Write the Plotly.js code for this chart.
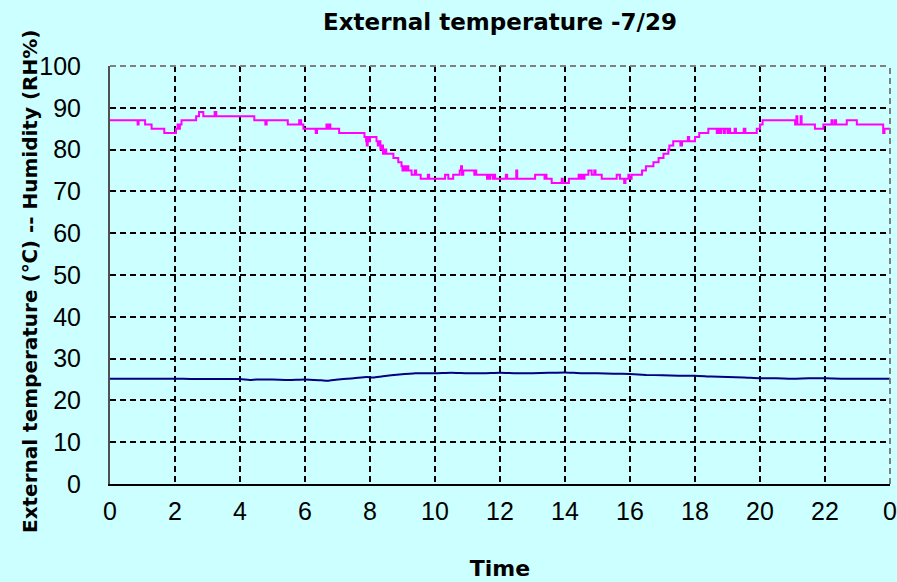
<!DOCTYPE html>
<html>
<head>
<meta charset="utf-8">
<script src="https://cdn.plot.ly/plotly-3.0.1.min.js"></script>
<style>
html,body{margin:0;padding:0;background:#CCFFFF;}
#chart{width:897px;height:582px;}
</style>
</head>
<body>
<div id="chart"></div>
<script>
// Humidity (RH%) step data: time (h) and value
const humTime = [0,0.85,0.88,1.08,1.28,1.67,2.03,2.08,2.1,2.15,2.2,2.65,2.74,2.87,3.22,3.27,4.44,4.78,4.82,5.47,5.82,5.88,5.95,6.33,6.37,6.66,6.7,6.74,6.78,7.05,7.83,7.88,7.9,7.93,7.97,8.0,8.2,8.24,8.27,8.32,8.36,8.4,8.45,8.5,8.72,8.87,8.97,9.0,9.03,9.08,9.12,9.18,9.28,9.38,9.42,9.56,9.78,9.82,10.31,10.41,10.56,10.76,10.8,10.83,10.87,11.21,11.24,11.27,11.6,11.63,11.67,11.7,11.78,11.82,11.85,12.18,12.22,12.5,12.53,13.08,13.37,13.4,13.43,13.59,13.9,13.93,14.12,14.42,14.45,14.5,14.55,14.6,14.72,14.82,14.9,14.94,15.0,15.13,15.59,15.69,15.82,15.86,15.95,15.98,16.05,16.37,16.49,16.72,16.88,17.03,17.18,17.21,17.33,17.55,17.6,17.78,17.82,18.0,18.13,18.41,18.67,18.7,18.75,18.8,18.88,18.92,19.0,19.05,19.08,19.22,19.26,19.5,19.55,19.9,20.0,20.08,21.08,21.12,21.15,21.25,21.28,21.69,21.95,22.2,22.23,22.3,22.34,22.67,22.98,23.79,23.83,24];
const humValue = [87,86,87,86,85,84,85,86,85,86,87,88,89,88,89,88,87,86,87,86,87,86,85,84,85,86,85,86,85,84,83,82,81,83,82,83,82,81,82,80,81,79,80,79,78,77,76,75,76,75,76,75,74,75,74,73,74,73,74,73,74,75,76,74,75,74,75,74,73,74,73,74,73,74,73,74,73,75,73,74,73,74,73,72,73,72,73,74,73,74,73,74,75,74,75,74,74,73,74,73,72,73,74,73,74,75,76,77,78,79,80,81,82,81,82,83,82,83,84,85,84,85,84,85,84,85,84,85,84,85,84,85,84,85,86,87,86,88,86,88,86,85,86,87,86,87,86,87,86,84,85,85];

// External temperature (℃)
const tempTime = [0,0.5,1,1.5,2,2.5,3,3.5,4,4.3,4.5,5,5.5,6,6.5,6.7,7,7.5,7.9,8.1,8.4,8.9,9.4,10,10.5,11,11.5,12,12.5,13,13.5,14,14.5,15,15.5,16,16.5,17,17.5,18,18.5,19,19.5,20,20.5,21,21.5,22,22.5,23,23.5,24];
const tempValue = [25.2,25.2,25.2,25.2,25.2,25.1,25.1,25.1,25.1,24.9,25.0,25.0,24.9,25.0,24.8,24.7,25.0,25.3,25.6,25.5,25.8,26.2,26.5,26.5,26.6,26.5,26.5,26.6,26.5,26.5,26.6,26.7,26.5,26.5,26.4,26.3,26.1,26.0,25.9,25.9,25.7,25.6,25.5,25.3,25.3,25.2,25.3,25.3,25.2,25.2,25.2,25.2];

const xTickVals = [0,2,4,6,8,10,12,14,16,18,20,22,24];
const xTickText = ['0','2','4','6','8','10','12','14','16','18','20','22','0'];
const yTickVals = [0,10,20,30,40,50,60,70,80,90,100];

const traces = [
  {x: humTime, y: humValue, type:'scatter', mode:'lines', line:{color:'#FF00FF', width:2, shape:'hv'}, name:'Humidity'},
  {x: tempTime, y: tempValue, type:'scatter', mode:'lines', line:{color:'#000080', width:2, shape:'spline', smoothing:0.6}, name:'Temperature'}
];

const layout = {
  width: 897, height: 582,
  paper_bgcolor:'#CCFFFF', plot_bgcolor:'#CCFFFF',
  margin:{l:110, r:7, t:66, b:98},
  showlegend:false,
  font:{family:'Liberation Sans, Arial, sans-serif', color:'#000'},
  title:{text:'External temperature -7/29', font:{family:'DejaVu Sans', size:23, weight:'bold', color:'#000'}, x:0.5, xref:'paper', xanchor:'center', y:0.962, yanchor:'middle'},
  xaxis:{
    range:[0,24], tickvals:xTickVals, ticktext:xTickText,
    tickfont:{size:25}, showgrid:true, gridcolor:'#000', gridwidth:2, griddash:'6px,4px',
    showline:true, linecolor:'#000', linewidth:2, zeroline:false,
    ticks:'', ticklabelstandoff:4,
    title:{text:'Time', font:{family:'DejaVu Sans', size:22, weight:'bold'}, standoff:37}
  },
  yaxis:{
    range:[0,100], tickvals:yTickVals,
    tickfont:{size:25}, showgrid:true, gridcolor:'#000', gridwidth:2, griddash:'6px,4px',
    showline:true, linecolor:'#505050', linewidth:2, zeroline:false,
    ticks:'', ticklabelstandoff:22
  },
  annotations:[
    {text:'External temperature (℃) -- Humidity (RH%)', xref:'paper', yref:'paper', x:0, y:0.5,
     xanchor:'center', yanchor:'middle', xshift:-80, yshift:-7, textangle:-90, showarrow:false,
     font:{family:'DejaVu Sans', size:20, weight:'bold', color:'#000'}}
  ],
  shapes:[
    {type:'line', xref:'paper', yref:'paper', x0:0, x1:1, y0:1, y1:1, line:{color:'#808080', width:2, dash:'6px,4px'}},
    {type:'line', xref:'paper', yref:'paper', x0:1, x1:1, y0:0, y1:1, line:{color:'#808080', width:2, dash:'6px,4px'}}
  ]
};

Plotly.newPlot('chart', traces, layout, {displayModeBar:false, staticPlot:true});
</script>
</body>
</html>
